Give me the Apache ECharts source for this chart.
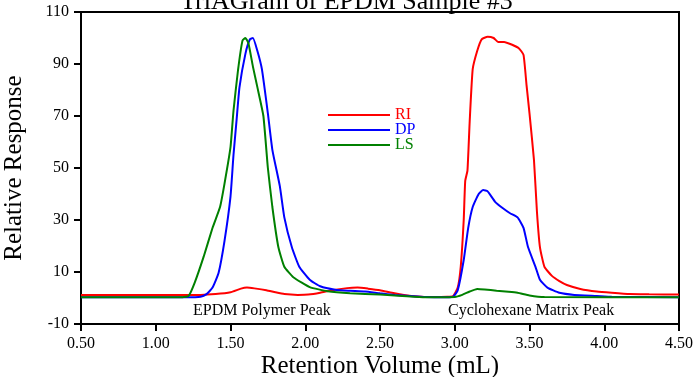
<!DOCTYPE html>
<html>
<head>
<meta charset="utf-8">
<script src="https://cdn.jsdelivr.net/npm/echarts@6/dist/echarts.min.js"></script>
<style>
  html, body { margin: 0; padding: 0; background: #fff; }
  #chart { width: 693px; height: 377px; }
</style>
</head>
<body>
<div id="chart"></div>
<script>
const seriesNames = ['RI', 'DP', 'LS'];

// retention volume (mL), relative response
const riPoints = [
  [0.50, 1.2], [1.00, 1.2], [1.30, 1.2], [1.40, 1.5], [1.50, 2.2], [1.57, 3.6], [1.61, 4.0],
  [1.66, 3.7], [1.74, 3.0], [1.80, 2.2], [1.86, 1.5], [1.95, 1.2], [2.02, 1.3], [2.10, 2.0],
  [2.18, 3.0], [2.28, 3.8], [2.35, 4.0], [2.42, 3.6], [2.50, 3.0], [2.58, 2.0], [2.66, 1.2],
  [2.75, 0.6], [2.85, 0.4], [2.95, 0.5], [2.99, 0.8], [3.02, 4], [3.04, 12], [3.06, 30],
  [3.07, 45], [3.085, 49], [3.10, 68], [3.12, 88], [3.15, 95], [3.18, 99.5], [3.22, 100.5],
  [3.26, 100], [3.29, 98.5], [3.33, 98.5], [3.38, 97.5], [3.43, 96], [3.46, 93.5], [3.48, 82],
  [3.50, 71], [3.53, 53], [3.55, 33], [3.57, 19.5], [3.60, 12], [3.65, 8.5], [3.70, 6.5],
  [3.75, 5], [3.84, 3.5], [3.95, 2.5], [4.05, 2.0], [4.17, 1.5], [4.30, 1.4], [4.50, 1.3]
];

const dpPoints = [
  [0.50, 0.3], [1.20, 0.3], [1.30, 0.5], [1.34, 1.5], [1.38, 4], [1.42, 9.6], [1.46, 22],
  [1.50, 39], [1.52, 55], [1.54, 68], [1.56, 81], [1.60, 94], [1.63, 99.5], [1.65, 100],
  [1.68, 95], [1.71, 88], [1.75, 71], [1.78, 57], [1.83, 43], [1.86, 31], [1.91, 19.6],
  [1.96, 12], [2.03, 7], [2.10, 4.5], [2.20, 3.2], [2.30, 2.8], [2.40, 2.5], [2.50, 1.8],
  [2.60, 1.2], [2.70, 0.8], [2.80, 0.4], [2.95, 0.3], [2.99, 0.5], [3.02, 3], [3.06, 14.6],
  [3.09, 27], [3.12, 35], [3.16, 40], [3.19, 41.5], [3.22, 41], [3.27, 37], [3.32, 34.6],
  [3.37, 32.6], [3.42, 31], [3.46, 27], [3.49, 19.6], [3.54, 12], [3.57, 7], [3.62, 4],
  [3.70, 2], [3.80, 1.2], [3.95, 0.8], [4.05, 0.5], [4.50, 0.3]
];

const lsPoints = [
  [0.50, 0.3], [1.18, 0.3], [1.22, 0.8], [1.26, 5.8], [1.32, 15.8], [1.38, 27], [1.43, 35],
  [1.46, 44], [1.50, 58], [1.52, 72], [1.55, 87.5], [1.58, 99], [1.60, 100], [1.62, 98],
  [1.65, 89], [1.68, 81], [1.72, 70], [1.75, 50], [1.78, 35], [1.82, 19.6], [1.86, 12],
  [1.92, 8], [2.03, 4.2], [2.15, 2.6], [2.30, 1.8], [2.50, 1.3], [2.65, 0.8], [2.80, 0.3],
  [3.00, 0.4], [3.05, 1.2], [3.10, 2.5], [3.15, 3.5], [3.20, 3.3], [3.28, 2.8], [3.36, 2.4],
  [3.42, 2.0], [3.50, 1.0], [3.60, 0.4], [4.50, 0.3]
];

const peakLabels = ['EPDM Polymer Peak', 'Cyclohexane Matrix Peak'];
const colors = ['#ff0000', '#0000ff', '#008000'];

const serif = '"Liberation Serif", "DejaVu Serif", serif';
const chart = echarts.init(document.getElementById('chart'));

const makeSeries = (name, points, color) => ({
  name: name,
  type: 'line',
  data: points,
  showSymbol: false,
  smooth: 0.15,
  lineStyle: { color: color, width: 2 },
  itemStyle: { color: color },
  animation: false
});

const option = {
  animation: false,
  title: {
    text: 'TriAGram of EPDM Sample #3',
    left: 'center',
    top: -11,
    padding: 0,
    textStyle: { fontFamily: serif, fontSize: 26, fontWeight: 'normal', color: '#000' }
  },
  grid: {
    left: 81, right: 14, top: 12, bottom: 53,
    outerBoundsMode: 'none',
    containLabel: false,
    show: true, borderColor: '#000', borderWidth: 2
  },
  legend: {
    orient: 'vertical',
    left: 323,
    top: 102,
    icon: 'rect',
    itemWidth: 62,
    itemHeight: 2,
    itemGap: -1,
    textStyle: { fontFamily: serif, fontSize: 16, lineHeight: 14 },
    data: seriesNames.map((n, i) => ({ name: n, textStyle: { color: colors[i] } }))
  },
  xAxis: {
    type: 'value',
    min: 0.5,
    max: 4.5,
    interval: 0.5,
    name: 'Retention Volume (mL)',
    nameLocation: 'middle',
    nameGap: 30,
    nameMoveOverlap: false,
    nameTextStyle: { fontFamily: serif, fontSize: 25, color: '#000' },
    axisLine: { show: true, onZero: false, lineStyle: { color: '#000', width: 2 } },
    axisTick: { show: true, inside: false, length: 7, lineStyle: { color: '#000', width: 2 } },
    axisLabel: {
      fontFamily: serif, fontSize: 16, color: '#000', margin: 12,
      formatter: v => v.toFixed(2)
    },
    splitLine: { show: false }
  },
  yAxis: {
    type: 'value',
    min: -10,
    max: 110,
    interval: 20,
    name: 'Relative Response',
    nameLocation: 'middle',
    nameGap: 54,
    nameMoveOverlap: false,
    nameTextStyle: { fontFamily: serif, fontSize: 25, color: '#000' },
    axisLine: { show: true, onZero: false, lineStyle: { color: '#000', width: 2 } },
    axisTick: { show: true, inside: false, length: 7, lineStyle: { color: '#000', width: 2 } },
    axisLabel: { fontFamily: serif, fontSize: 16, color: '#000', margin: 12 },
    splitLine: { show: false }
  },
  graphic: [
    {
      type: 'text', left: 193, top: 303,
      style: { text: peakLabels[0], font: '16px ' + serif, fill: '#000' }
    },
    {
      type: 'text', left: 448, top: 303,
      style: { text: peakLabels[1], font: '16px ' + serif, fill: '#000' }
    }
  ],
  series: [
    makeSeries(seriesNames[0], riPoints, colors[0]),
    makeSeries(seriesNames[1], dpPoints, colors[1]),
    makeSeries(seriesNames[2], lsPoints, colors[2])
  ]
};

chart.setOption(option);
</script>
</body>
</html>
